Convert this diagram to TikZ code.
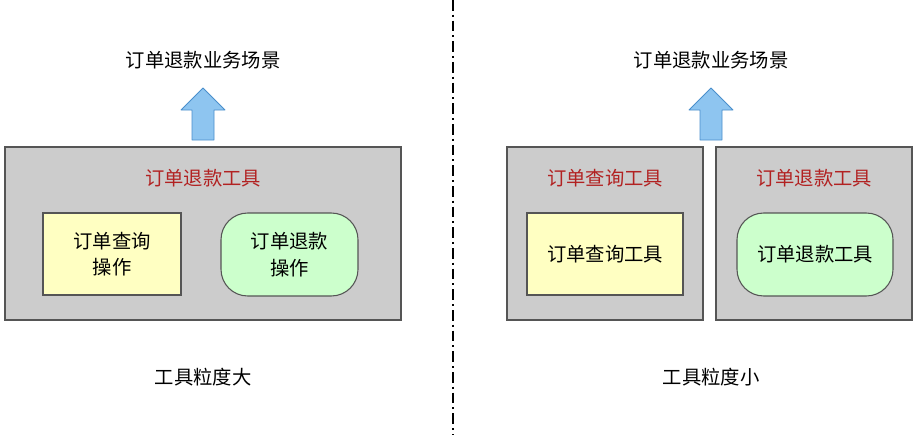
\documentclass[tikz,border=0pt]{standalone}
\usepackage{fontspec}
\setmainfont{Noto Sans CJK SC}
\definecolor{boxgray}{HTML}{CCCCCC}
\definecolor{boxedge}{HTML}{555555}
\definecolor{ylw}{HTML}{FFFFC2}
\definecolor{grn}{HTML}{CCFFCC}
\definecolor{ttl}{HTML}{B22222}
\definecolor{arrf}{HTML}{8EC5F0}
\definecolor{arre}{HTML}{4A8FCC}
\tikzset{
 outer/.style={draw=boxedge,fill=boxgray,line width=0.8pt,inner sep=0pt},
 ybox/.style={draw=boxedge,fill=ylw,line width=0.8pt,align=center,font=\fontsize{14.5}{20}\selectfont},
 gbox/.style={draw=boxedge,fill=grn,line width=0.8pt,align=center,rounded corners=20pt,font=\fontsize{14.5}{20}\selectfont},
 lbl/.style={font=\fontsize{14.5}{18}\selectfont},
 ttlstyle/.style={font=\fontsize{14.5}{18}\selectfont,text=ttl},
 uparrow/.style={fill=arrf,draw=arre,line width=0.6pt,line join=round}
}
\begin{document}
\begin{tikzpicture}[x=0.75pt,y=-0.75pt]
\useasboundingbox (0,0) rectangle (920,435);
\fill[white] (0,0) rectangle (920,435);
% left
\node[lbl] (s1) at (203,60) {订单退款业务场景};
\draw[uparrow] (192,140) -- (192,110) -- (181,110) -- (203,88) -- (225,110) -- (214,110) -- (214,140) -- cycle;
\node[outer,minimum width=396*0.75pt,minimum height=173*0.75pt] (L) at (203,233.5) {};
\node[ttlstyle] (Lt) at (203,178) {订单退款工具};
\node[ybox,minimum width=138*0.75pt,minimum height=82*0.75pt] (Ly) at (112,254) {订单查询\\操作};
\node[gbox,minimum width=137*0.75pt,minimum height=83*0.75pt] (Lg) at (289.5,254.5) {订单退款\\操作};
\node[lbl] (c1) at (203,377) {工具粒度大};
% divider
\coordinate (d1) at (453,0); \coordinate (d2) at (453,435);
\draw[line width=1pt,dash pattern=on 8pt off 3pt on 1.5pt off 3pt] (d1) -- (d2);
% right
\node[lbl] (s2) at (711,60) {订单退款业务场景};
\draw[uparrow] (700,140) -- (700,110) -- (689,110) -- (711,88) -- (733,110) -- (722,110) -- (722,140) -- cycle;
\node[outer,minimum width=196*0.75pt,minimum height=173*0.75pt] (R1) at (605,233.5) {};
\node[ttlstyle] (R1t) at (605,178) {订单查询工具};
\node[ybox,minimum width=156*0.75pt,minimum height=82*0.75pt] (R1y) at (605,254) {订单查询工具};
\node[outer,minimum width=196*0.75pt,minimum height=173*0.75pt] (R2) at (814,233.5) {};
\node[ttlstyle] (R2t) at (814,178) {订单退款工具};
\node[gbox,minimum width=156*0.75pt,minimum height=83*0.75pt] (R2g) at (815,254.5) {订单退款工具};
\node[lbl] (c2) at (711,377) {工具粒度小};
\end{tikzpicture}
\end{document}
